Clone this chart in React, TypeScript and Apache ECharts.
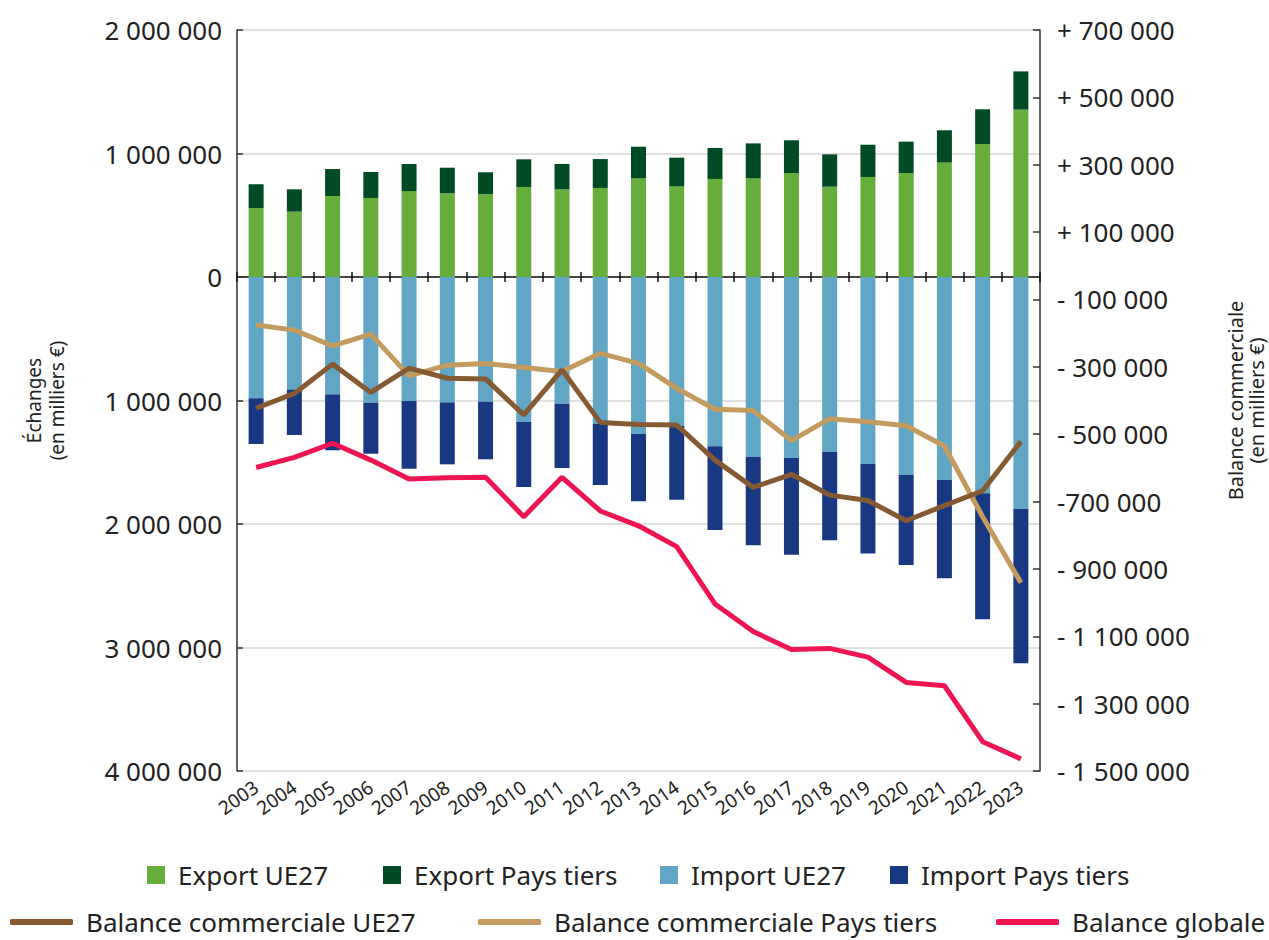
import React, { useEffect, useRef } from "react";
import * as echarts from "echarts";

const years = ["2003", "2004", "2005", "2006", "2007", "2008", "2009", "2010", "2011", "2012", "2013", "2014", "2015", "2016", "2017", "2018", "2019", "2020", "2021", "2022", "2023"];

// Values in milliers €
const exportUE27 = [559000, 529000, 656000, 640000, 696000, 677000, 669000, 729000, 710000, 721000, 799000, 734000, 794000, 799000, 842000, 731000, 810000, 842000, 926000, 1077000, 1355000];
const exportPaysTiers = [192000, 181000, 218000, 210000, 219000, 208000, 179000, 224000, 205000, 234000, 256000, 232000, 251000, 283000, 265000, 262000, 261000, 254000, 262000, 281000, 310000];
const importUE27 = [982000, 912000, 950000, 1018000, 1004000, 1015000, 1010000, 1174000, 1026000, 1190000, 1271000, 1206000, 1371000, 1457000, 1466000, 1417000, 1514000, 1603000, 1644000, 1752000, 1879000];
const importPaysTiers = [370000, 367000, 453000, 413000, 548000, 502000, 466000, 526000, 521000, 494000, 545000, 597000, 678000, 716000, 783000, 715000, 724000, 729000, 796000, 1020000, 1249000];

const balanceUE27 = [-423000, -379000, -292000, -376000, -304000, -334000, -336000, -443000, -309000, -465000, -471000, -473000, -577000, -658000, -619000, -681000, -697000, -757000, -712000, -668000, -522000];
const balancePaysTiers = [-176000, -191000, -238000, -203000, -327000, -295000, -290000, -302000, -314000, -260000, -290000, -364000, -426000, -430000, -519000, -454000, -463000, -475000, -535000, -745000, -941000];
const balanceGlobale = [-599000, -569000, -527000, -577000, -633000, -629000, -628000, -745000, -628000, -728000, -772000, -834000, -1004000, -1086000, -1139000, -1136000, -1162000, -1237000, -1247000, -1413000, -1464000];

const rightTickValues = [700000, 500000, 300000, 100000, -100000, -300000, -500000, -700000, -900000, -1100000, -1300000, -1500000];
const rightTickLabels = ["+ 700 000", "+ 500 000", "+ 300 000", "+ 100 000", "- 100 000", "- 300 000", "- 500 000", "-700 000", "- 900 000", "- 1 100 000", "- 1 300 000", "- 1 500 000"];

const FONT = "Noto Sans";
const C = {
  expUE: "#66ad3c",
  expPT: "#004b23",
  impUE: "#61a6c5",
  impPT: "#193882",
  balUE: "#855a33",
  balPT: "#c49b5f",
  balG: "#ee1652",
  text: "#222222",
};

const fmtSpace = (v: number) => String(Math.abs(v)).replace(/\B(?=(\d{3})+(?!\d))/g, " ");

export default function App() {
  const ref = useRef<HTMLDivElement>(null);
  useEffect(() => {
    document.body.style.margin = "0";
    const chart = echarts.init(ref.current!, undefined, { renderer: "svg" });
    const legendText = { fontFamily: FONT, fontSize: 26, lineHeight: 26, color: C.text, padding: [0, 0, 0, 8] };
    const sq = (name: string, left: number) => ({
      show: true, left, top: 862, padding: 0, orient: "horizontal", icon: "rect", itemWidth: 18, itemHeight: 18,
      data: [name], textStyle: legendText, selectedMode: false,
    });
    const ln = (name: string, left: number) => ({
      show: true, left, top: 909, padding: 0, orient: "horizontal", icon: "roundRect", itemWidth: 63, itemHeight: 6,
      data: [name], textStyle: legendText, selectedMode: false,
    });
    const option: any = {
      animation: false,
      backgroundColor: "#ffffff",
      grid: { left: 237, right: 229, top: 30, bottom: 169, containLabel: false, outerBoundsMode: "none" },
      legend: [
        sq("Export UE27", 147),
        sq("Export Pays tiers", 383),
        sq("Import UE27", 660),
        sq("Import Pays tiers", 890),
        ln("Balance commerciale UE27", 10),
        ln("Balance commerciale Pays tiers", 478),
        ln("Balance globale", 996),
      ],
      xAxis: [
        {
          type: "category", data: years, position: "bottom",
          axisLine: { show: false, onZero: false }, axisTick: { show: false },
          axisLabel: { interval: 0, rotate: 35, margin: 14, fontFamily: FONT, fontSize: 19, color: C.text, hideOverlap: false },
        },
        {
          type: "category", data: years, position: "bottom",
          axisLine: { show: true, onZero: true, onZeroAxisIndex: 0, lineStyle: { color: "#111", width: 1.5 } },
          axisTick: { show: true, inside: false, length: 5, lineStyle: { color: "#111", width: 1.5 } },
          axisLabel: { show: false },
        },
        {
          type: "category", data: years, position: "bottom",
          axisLine: { show: false, onZero: true, onZeroAxisIndex: 0 },
          axisTick: { show: true, inside: true, length: 5, lineStyle: { color: "#111", width: 1.5 } },
          axisLabel: { show: false },
        },
      ],
      yAxis: [
        {
          type: "value", min: -4000000, max: 2000000, interval: 1000000, position: "left",
          name: "Échanges\n(en milliers €)", nameLocation: "middle", nameRotate: 90, nameGap: 169,
          nameTextStyle: { fontFamily: FONT, fontSize: 19, color: C.text, lineHeight: 23, align: "center" },
          axisLine: { show: true, lineStyle: { color: "#333", width: 1.5 } },
          axisTick: { show: true, inside: true, length: 6, lineStyle: { color: "#333", width: 1.5 } },
          axisLabel: { formatter: (v: number) => fmtSpace(v), fontFamily: FONT, fontSize: 26, color: C.text, margin: 15 },
          splitLine: { show: true, lineStyle: { color: "#d6d6d6", width: 1.5 } },
        },
        {
          type: "value", min: -1500000, max: 700000, position: "right",
          name: "Balance commerciale\n(en milliers €)", nameLocation: "middle", nameRotate: 90, nameGap: 185,
          nameTextStyle: { fontFamily: FONT, fontSize: 20, color: C.text, lineHeight: 21, align: "center" },
          axisLine: { show: true, lineStyle: { color: "#333", width: 1.5 } },
          axisTick: { show: true, inside: true, length: 7, customValues: rightTickValues, lineStyle: { color: "#333", width: 1.5 } },
          axisLabel: {
            customValues: rightTickValues,
            formatter: (v: number) => {
              const i = rightTickValues.indexOf(v);
              return i >= 0 ? rightTickLabels[i] : "";
            },
            fontFamily: FONT, fontSize: 26, color: C.text, margin: 17,
          },
          splitLine: { show: false },
        },
      ],
      series: [
        { name: "Export UE27", type: "bar", stack: "trade", barWidth: 15, xAxisIndex: 0, yAxisIndex: 0, color: C.expUE, itemStyle: { color: C.expUE }, data: exportUE27 },
        { name: "Export Pays tiers", type: "bar", stack: "trade", barWidth: 15, xAxisIndex: 0, yAxisIndex: 0, color: C.expPT, itemStyle: { color: C.expPT }, data: exportPaysTiers },
        { name: "Import UE27", type: "bar", stack: "trade", barWidth: 15, xAxisIndex: 0, yAxisIndex: 0, color: C.impUE, itemStyle: { color: C.impUE }, data: importUE27.map((v) => -v) },
        { name: "Import Pays tiers", type: "bar", stack: "trade", barWidth: 15, xAxisIndex: 0, yAxisIndex: 0, color: C.impPT, itemStyle: { color: C.impPT }, data: importPaysTiers.map((v) => -v) },
        { name: "Balance commerciale UE27", type: "line", xAxisIndex: 0, yAxisIndex: 1, showSymbol: false, symbol: "none", color: C.balUE, itemStyle: { color: C.balUE }, lineStyle: { color: C.balUE, width: 5 }, data: balanceUE27, z: 5 },
        { name: "Balance commerciale Pays tiers", type: "line", xAxisIndex: 0, yAxisIndex: 1, showSymbol: false, symbol: "none", color: C.balPT, itemStyle: { color: C.balPT }, lineStyle: { color: C.balPT, width: 5 }, data: balancePaysTiers, z: 4 },
        { name: "Balance globale", type: "line", xAxisIndex: 0, yAxisIndex: 1, showSymbol: false, symbol: "none", color: C.balG, itemStyle: { color: C.balG }, lineStyle: { color: C.balG, width: 5 }, data: balanceGlobale, z: 6 },
      ],
    };
    chart.setOption(option);
    return () => chart.dispose();
  }, []);
  return <div ref={ref} style={{ width: 1269, height: 940, position: "absolute", left: 0, top: 0 }} />;
}
